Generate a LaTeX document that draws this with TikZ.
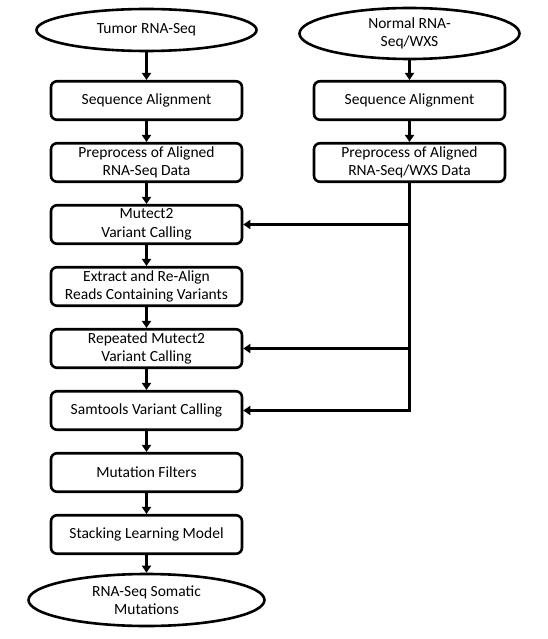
\documentclass[tikz,border=0pt]{standalone}
\usepackage{fontspec}
\setmainfont{Carlito}
\usetikzlibrary{arrows.meta, positioning, shapes.geometric}

\begin{document}
\begin{tikzpicture}[
  x=1pt, y=1pt,
  box/.style={draw, line width=2.6pt, rounded corners=6pt, align=center,
    minimum width=191pt, minimum height=38.5pt, inner sep=1pt},
  term/.style={draw, ellipse, line width=2.6pt, align=center, inner sep=0pt},
  arr/.style={line width=2.4pt, -{Triangle[length=7pt, width=9pt]}},
  node distance=20.9pt,
  font=\fontsize{15.5}{18.5}\selectfont
]
\useasboundingbox (0,0) rectangle (548,-639);

% Left: tumor branch
\node[term, minimum width=220pt, minimum height=42pt] (tumor) at (146.5,-30) {Tumor RNA-Seq};
\node[box] (align1) at (146.5,-100.5) {Sequence Alignment};
\node[box, below=of align1] (prep1) {Preprocess of Aligned\\RNA-Seq Data};
\node[box, below=of prep1] (mut) {Mutect2\\Variant Calling};
\node[box, below=of mut] (extract) {Extract and Re-Align\\Reads Containing Variants};
\node[box, below=of extract] (rmut) {Repeated Mutect2\\Variant Calling};
\node[box, below=of rmut] (sam) {Samtools Variant Calling};
\node[box, below=of sam] (filt) {Mutation Filters};
\node[box, below=of filt] (stack) {Stacking Learning Model};
\node[term, minimum width=236pt, minimum height=52pt] (result) at (146.5,-600) {RNA-Seq Somatic\\Mutations};

% Right: normal branch
\node[term, minimum width=220pt, minimum height=51pt] (normal) at (409.5,-33.5) {Normal RNA-\\Seq/WXS};
\node[box] (align2) at (409.5,-100.5) {Sequence Alignment};
\node[box, below=of align2] (prep2) {Preprocess of Aligned\\RNA-Seq/WXS Data};

% Arrows down the left column
\foreach \a/\b in {tumor/align1, align1/prep1, prep1/mut, mut/extract,
  extract/rmut, rmut/sam, sam/filt, filt/stack, stack/result}
  \draw[arr] (\a) -- (\b);

% Arrows down the right column and into the left boxes
\draw[arr] (normal) -- (align2);
\draw[arr] (align2) -- (prep2);
\draw[arr, rounded corners=0pt] (prep2.south) |- (sam.east);
\draw[arr] (prep2.south |- mut.east) -- (mut.east);
\draw[arr] (prep2.south |- rmut.east) -- (rmut.east);

\end{tikzpicture}
\end{document}
